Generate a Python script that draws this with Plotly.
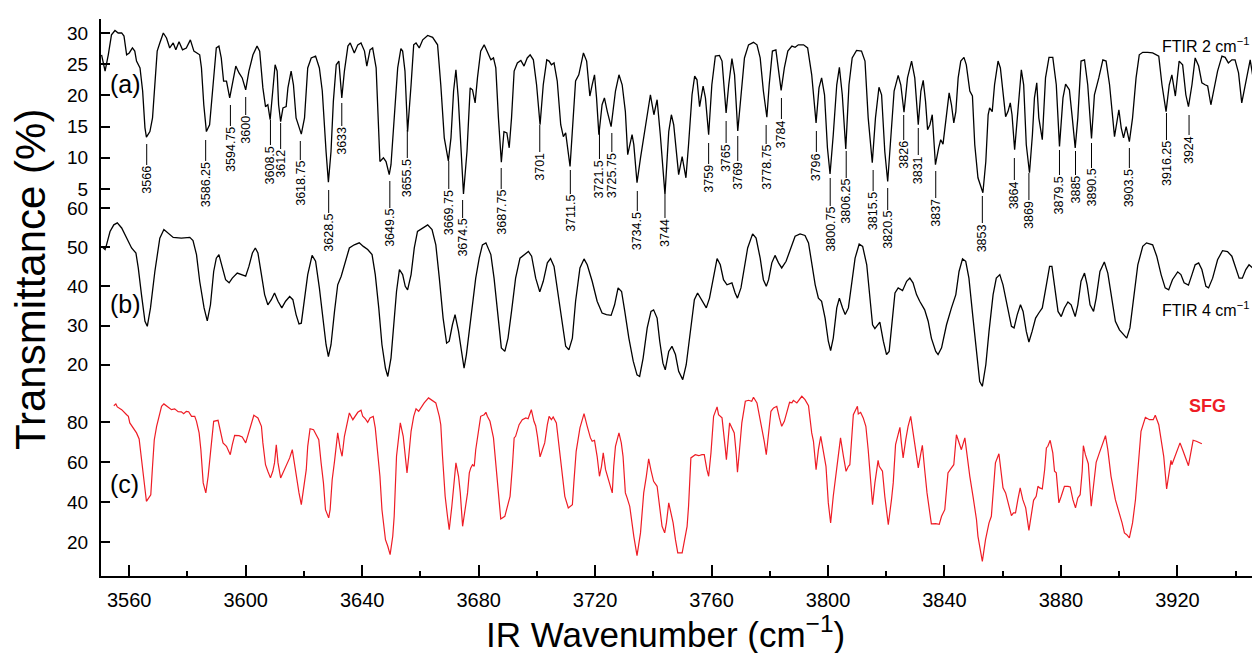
import plotly.graph_objects as go

# ---------------- data ----------------
A_WN = [3550.5,3551.7,3552.8,3553.9,3555.1,3556.2,3557.4,3558.2,3559.1,3560.0,3561.1,3561.9,3562.5,3563.7,3564.6,3565.4,3565.9,3567.1,3568.0,3568.8,3569.6,3570.5,3571.7,3572.8,3573.9,3575.1,3576.0,3577.1,3578.3,3579.6,3581.0,3582.2,3584.2,3584.8,3585.6,3586.5,3587.6,3588.8,3589.9,3590.8,3591.6,3592.4,3593.4,3594.5,3595.6,3596.6,3597.7,3598.8,3600.0,3601.1,3602.5,3603.9,3604.8,3605.9,3606.8,3607.6,3608.4,3609.3,3610.1,3610.8,3611.3,3612.0,3612.8,3613.9,3614.5,3615.6,3616.4,3617.3,3619.1,3620.2,3621.3,3622.5,3624.0,3625.3,3626.3,3627.6,3628.4,3629.3,3630.1,3631.1,3632.0,3633.0,3633.9,3635.1,3635.9,3637.3,3638.5,3639.6,3640.8,3641.6,3642.7,3643.6,3644.8,3646.1,3647.3,3648.2,3649.3,
        3649.9,3651.0,3652.2,3653.3,3653.9,3654.7,3655.6,3656.8,3657.7,3658.5,3659.6,3660.8,3662.5,3664.2,3665.9,3667.0,3668.2,3669.6,3670.5,3671.4,3672.2,3673.0,3673.9,3674.8,3676.0,3677.1,3677.9,3678.8,3679.6,3680.7,3681.9,3683.0,3684.2,3685.1,3685.9,3686.8,3687.8,3688.7,3689.7,3690.5,3691.3,3692.2,3693.3,3694.5,3695.6,3696.7,3697.7,3698.8,3699.9,3701.1,3702.2,3703.4,3704.2,3705.0,3705.9,3707.0,3708.2,3709.1,3709.9,3711.4,3712.5,3713.3,3714.4,3716.0,3717.1,3718.2,3719.0,3719.8,3720.5,3721.3,3722.4,3723.2,3724.2,3725.5,3727.0,3728.2,3729.3,3730.4,3731.2,3732.7,3733.3,3734.4,3735.6,3737.3,3739.0,3740.2,3741.3,3742.4,3744.0,3745.3,3746.2,3747.0,3747.9,3748.7,3749.9,
        3751.2,3752.1,3753.3,3754.2,3755.0,3755.9,3757.1,3757.9,3759.0,3760.1,3761.3,3762.7,3763.6,3765.0,3765.9,3767.0,3767.9,3769.0,3770.2,3771.3,3772.7,3774.4,3775.6,3776.7,3777.8,3779.0,3779.8,3780.9,3782.1,3783.0,3783.9,3785.0,3786.2,3787.6,3788.7,3789.8,3791.6,3793.0,3794.4,3795.9,3796.9,3797.8,3798.8,3799.8,3800.7,3801.8,3803.0,3803.9,3804.9,3806.1,3807.2,3808.3,3809.8,3811.5,3812.7,3813.8,3815.2,3816.3,3817.5,3818.4,3819.5,3820.5,3821.6,3822.7,3824.1,3825.0,3826.1,3827.3,3828.7,3829.8,3831.0,3831.9,3832.7,3833.5,3834.2,3835.0,3835.8,3836.9,3838.0,3838.7,3839.5,3840.7,3841.6,3842.4,3843.2,3843.9,3844.7,3845.6,3846.7,
        3847.5,3848.7,3849.6,3850.4,3851.5,3853.2,3854.2,3855.0,3855.5,3856.4,3857.2,3858.4,3859.2,3860.1,3861.0,3861.8,3862.6,3863.2,3864.1,3865.2,3866.4,3867.2,3868.1,3869.2,3870.2,3870.9,3871.7,3872.4,3873.6,3874.7,3875.9,3877.2,3878.4,3879.5,3880.7,3881.6,3882.9,3883.9,3884.9,3885.8,3886.9,3888.1,3889.2,3890.5,3891.5,3893.0,3894.4,3895.5,3896.7,3898.4,3899.2,3899.9,3900.7,3901.5,3902.4,3903.5,3904.6,3905.8,3906.9,3908.1,3909.8,3911.5,3913.6,3914.7,3916.1,3917.2,3918.1,3919.3,3920.6,3921.8,3922.9,3923.8,3925.0,3926.1,3927.3,3928.4,3929.5,3930.4,3931.5,3932.6,3933.8,3935.3,3936.4,3937.5,3938.7,3939.8,3941.0,3942.1,3943.3,3945.0,3946.0,3947.0,3947.8,3948.6,3949.5]
A_T = [26.5,23.9,26.5,29.7,30.4,30.0,30.0,29.5,26.5,26.8,27.6,27.1,25.5,24.4,20.7,14.8,13.3,14.2,16.4,21.7,27.1,28.4,30.0,29.2,27.6,28.4,27.3,28.6,27.3,27.6,28.9,27.1,26.5,24.4,18.5,14.2,15.3,21.7,27.6,27.9,26.0,22.3,22.3,19.6,22.3,24.7,23.6,22.8,20.9,23.9,26.5,27.9,27.1,21.2,18.2,18.5,16.1,20.7,24.9,23.9,18.5,15.8,18.0,18.2,21.2,23.9,21.7,16.4,13.8,16.4,24.4,26.0,26.3,24.4,20.7,11.0,6.1,11.0,19.0,24.9,25.5,19.6,23.9,27.9,28.4,26.8,28.1,28.4,27.1,24.7,27.3,27.6,24.4,9.4,10.0,9.4,7.3,
       8.9,16.4,24.4,27.5,27.1,23.9,14.2,21.7,28.1,28.4,27.6,28.9,29.6,29.3,28.1,21.7,13.2,9.5,13.2,20.7,24.1,19.6,11.0,4.2,11.0,21.2,20.9,18.8,22.8,27.1,28.1,26.8,25.7,26.0,24.4,16.4,9.3,14.2,14.0,11.6,16.4,23.9,25.2,25.6,24.7,26.0,26.5,25.7,21.7,15.3,21.7,25.7,25.5,24.9,25.2,22.3,15.3,13.4,14.0,8.6,16.4,22.3,23.3,26.8,25.5,19.9,21.7,23.3,19.6,13.7,18.5,19.6,17.4,15.0,20.7,23.3,21.7,17.4,10.5,13.7,12.1,6.0,10.0,14.8,20.1,16.9,19.3,13.7,4.1,14.2,16.9,15.3,10.5,7.3,10.2,
       6.8,12.1,20.1,23.1,22.5,18.2,21.5,19.6,13.7,21.7,26.3,26.4,25.5,17.2,21.7,25.9,23.3,14.3,20.1,26.0,28.1,28.5,28.1,26.0,20.7,16.5,21.7,27.1,27.3,24.4,20.8,24.4,27.1,27.9,27.7,28.1,28.1,27.6,23.3,15.6,21.2,22.8,20.1,11.6,7.4,13.7,21.7,24.5,20.1,11.4,21.7,26.0,27.2,27.1,25.5,16.4,9.2,16.4,21.3,20.1,11.0,6.2,13.2,20.7,23.2,21.7,17.3,22.8,25.5,22.8,15.3,20.7,22.4,19.0,14.5,15.3,16.9,8.9,11.6,12.9,12.2,17.4,20.4,18.5,15.6,17.4,22.8,25.5,26.1,
       24.9,20.7,19.9,12.1,6.8,4.4,9.4,16.9,18.0,17.4,21.7,25.5,24.4,20.1,16.6,17.4,18.8,16.9,11.3,17.4,24.1,21.7,12.1,7.6,13.7,19.6,22.0,16.4,12.9,22.8,26.1,26.1,21.7,11.8,19.6,21.8,20.9,16.4,11.6,16.4,25.5,25.7,21.7,13.1,20.1,22.8,25.7,25.5,21.7,13.4,15.8,17.7,14.8,13.2,15.0,12.6,16.4,22.8,26.5,26.9,26.9,26.8,26.3,21.7,17.4,21.7,23.3,19.9,25.5,24.9,20.1,18.2,21.7,26.0,24.7,22.0,21.7,21.5,18.5,21.2,23.9,26.3,26.1,25.2,25.7,25.7,23.6,18.8,21.7,25.7,22.8,21.5,22.3,21.5,21.7]

B_WN = [3550.5,3551.7,3552.2,3553.4,3554.7,3555.9,3557.4,3559.1,3560.8,3562.3,3563.1,3564.2,3565.4,3566.2,3567.3,3568.8,3570.5,3571.9,3573.4,3575.1,3577.9,3580.8,3581.9,3583.1,3584.2,3585.7,3586.8,3587.9,3589.0,3589.9,3590.8,3592.0,3593.1,3594.3,3595.4,3597.1,3598.5,3600.0,3601.1,3602.3,3603.3,3604.2,3605.4,3606.5,3607.6,3608.8,3609.9,3611.1,3612.4,3613.7,3615.1,3616.2,3617.3,3618.3,3619.1,3620.2,3621.3,3622.8,3624.0,3625.3,3626.5,3627.6,3628.4,3629.3,3630.5,3631.6,3632.8,3633.9,3635.6,3637.3,3639.0,3640.4,3641.9,3643.4,3644.5,3645.7,3646.8,3648.0,3648.8,3649.9,3651.0,3651.8,3652.8,3653.9,3654.8,3655.6,3656.8,3657.9,3659.0,3660.8,3662.5,3664.0,3665.3,3666.5,3667.8,3669.0,3669.9,3671.0,3671.9,3673.1,3674.5,3675.0,3675.8,3676.7,3677.9,3679.0,3680.2,3681.3,3682.5,
        3684.2,3685.3,3686.5,3687.8,3689.0,3690.1,3691.3,3692.7,3694.2,3695.6,3697.1,3698.2,3699.6,3701.0,3702.2,3703.6,3704.7,3705.9,3707.0,3708.4,3709.9,3711.0,3712.2,3713.3,3714.8,3716.2,3717.3,3719.0,3720.7,3722.4,3723.9,3725.5,3726.7,3727.9,3729.1,3730.2,3731.6,3733.1,3734.4,3735.3,3736.5,3737.9,3739.2,3740.1,3741.3,3742.2,3743.3,3744.1,3745.3,3746.4,3747.6,3748.7,3750.1,3751.3,3752.7,3754.1,3755.2,3756.7,3758.2,3759.3,3760.7,3761.9,3763.0,3764.1,3765.3,3767.0,3768.1,3768.9,3770.1,3771.2,3772.4,3774.1,3775.3,3776.7,3777.8,3778.8,3779.6,3780.7,3781.8,3783.0,3784.1,3785.6,3787.0,3788.7,3790.4,3792.1,3793.3,3794.4,3795.6,3796.7,3797.8,3799.0,3800.1,3800.9,3801.8,3803.0,3803.9,3805.0,3805.9,3807.0,3808.1,3809.3,3810.7,3811.9,3813.3,3814.4,3815.3,3816.1,
        3817.8,3819.0,3820.1,3821.0,3821.8,3823.0,3824.1,3825.6,3827.0,3828.1,3829.2,3830.4,3831.5,3833.2,3834.4,3835.5,3837.0,3837.8,3839.0,3840.7,3842.4,3843.9,3845.0,3846.2,3847.3,3848.4,3849.8,3851.0,3852.1,3853.0,3854.2,3855.3,3856.7,3857.8,3859.0,3860.1,3861.6,3863.0,3863.9,3865.0,3866.1,3867.0,3868.1,3869.0,3870.1,3871.3,3872.4,3873.6,3875.0,3876.1,3876.9,3877.8,3879.0,3880.1,3881.2,3882.4,3883.5,3884.9,3885.8,3886.9,3888.1,3889.0,3890.0,3891.2,3892.1,3893.4,3894.9,3896.1,3897.2,3898.7,3900.1,3901.4,3902.6,3903.7,3904.9,3906.4,3908.1,3909.4,3911.5,3912.9,3914.4,3915.8,3917.0,3918.3,3920.1,3921.2,3922.3,3923.8,3925.0,3926.1,3927.3,3928.4,3929.8,3930.7,3932.1,3933.8,3935.5,3937.2,3938.7,3940.1,3941.2,3942.3,3943.5,3944.6,3945.8,3946.9,3947.8,3948.6,3949.4]
B_T = [50.2,49.4,50.6,54.0,55.7,56.2,54.9,52.3,49.8,48.5,44.7,37.9,31.1,29.8,34.5,43.8,52.3,54.5,53.6,52.5,52.3,52.5,51.7,48.1,41.3,34.5,31.2,35.3,43.8,47.2,48.1,44.7,41.7,40.9,42.1,43.4,43.0,42.6,45.1,48.5,49.8,48.5,43.0,37.9,35.3,36.6,38.3,36.2,34.5,36.2,37.4,36.6,32.8,30.4,30.6,36.2,43.0,47.9,46.4,39.6,31.9,25.1,22.1,25.1,33.6,40.4,42.6,45.5,49.8,50.6,51.1,50.2,49.4,48.1,43.0,34.5,25.1,19.1,17.0,21.7,31.1,38.7,44.3,43.0,40.0,39.1,43.0,49.8,54.0,54.9,55.7,54.5,50.6,42.1,31.9,25.5,26.0,30.2,32.8,28.5,21.7,19.1,22.6,28.5,36.2,42.1,47.2,50.6,51.1,
       48.1,42.1,32.8,24.3,23.4,26.8,33.6,42.1,47.2,48.1,48.9,47.7,42.1,38.6,41.3,46.0,47.1,45.1,39.6,32.8,24.7,23.8,26.8,36.2,44.7,47.0,45.5,41.3,36.2,33.2,32.8,32.6,35.3,39.6,38.7,33.6,26.8,20.9,17.4,17.0,21.7,29.4,33.6,34.0,31.9,26.0,20.4,18.7,23.4,24.7,22.6,18.3,16.2,20.0,28.5,36.6,38.3,36.2,34.5,37.0,43.0,47.1,45.5,41.7,40.4,40.9,38.3,37.0,39.6,44.7,49.8,53.4,52.3,47.2,41.7,40.0,41.7,46.0,47.9,46.0,44.7,46.4,49.4,52.8,53.4,53.0,51.1,45.5,40.4,37.0,36.2,31.9,26.0,23.6,26.8,34.5,37.0,34.5,32.8,34.5,41.3,47.2,50.8,50.2,45.5,37.9,30.2,29.2,
       30.9,26.0,22.6,23.4,30.2,38.3,39.6,38.9,41.3,42.1,40.9,37.9,36.2,34.0,31.1,26.8,23.4,22.6,24.3,30.2,34.5,37.9,43.8,47.0,46.4,42.1,31.9,22.6,15.7,14.5,20.0,28.5,37.9,42.1,43.0,40.4,34.5,29.8,29.4,32.8,35.3,33.6,28.5,25.8,28.5,31.9,33.2,34.5,40.4,45.1,45.1,39.6,33.6,32.3,34.5,36.0,35.3,32.3,35.3,41.3,43.4,40.4,35.3,33.6,37.0,43.8,46.2,43.4,37.9,31.1,28.9,27.7,26.8,29.4,37.0,45.5,50.2,51.1,50.6,47.7,43.0,39.6,39.1,41.7,43.7,43.0,40.9,40.3,43.0,45.5,46.0,44.3,40.0,39.6,42.1,46.8,49.1,48.9,47.7,44.7,42.1,42.1,44.3,45.5,44.7,43.0,42.1,42.6,43.4]

C_WN = [3554.7,3555.4,3555.9,3557.4,3559.1,3559.7,3560.2,3561.4,3562.5,3563.4,3564.2,3564.6,3564.8,3565.4,3565.9,3566.7,3567.4,3568.0,3568.6,3569.4,3570.2,3571.1,3571.9,3573.0,3574.5,3575.6,3576.8,3577.9,3578.7,3579.6,3580.4,3581.4,3582.5,3583.1,3584.0,3584.6,3585.4,3586.3,3587.1,3587.9,3589.0,3590.5,3591.3,3592.2,3593.4,3594.7,3595.4,3596.2,3597.7,3598.8,3600.0,3601.1,3602.8,3604.2,3605.4,3605.9,3606.8,3607.6,3608.5,3609.3,3609.9,3610.5,3611.1,3612.0,3612.8,3613.9,3615.1,3616.0,3616.8,3617.6,3618.3,3619.1,3619.9,3620.8,3621.3,3622.1,3623.3,3624.2,3625.1,3625.9,3626.7,3627.4,3628.5,3629.0,3629.7,3630.5,3631.6,3632.4,3633.1,3633.9,3634.7,3635.6,3636.8,3637.7,3638.5,3639.6,3640.2,3641.1,3641.9,3642.7,3643.8,3644.5,3645.3,3646.1,3646.8,3648.0,3648.8,3649.6,3650.5,3651.0,3651.8,3653.1,3654.1,3655.0,3655.4,3656.0,3656.8,3657.7,3658.5,3659.4,3660.2,3661.3,3662.8,3664.2,3665.3,3666.5,3667.0,3667.6,3668.5,3669.3,3669.9,3670.8,3671.6,3672.2,3673.1,3673.7,3674.5,3675.4,3676.2,3676.8,3677.3,3677.9,3678.5,3679.0,3679.9,3680.7,3681.9,3682.5,3683.0,
        3683.9,3685.1,3686.2,3687.6,3689.0,3689.9,3690.8,3691.6,3692.2,3692.7,3693.9,3695.0,3696.2,3697.0,3698.1,3699.0,3699.6,3700.2,3701.1,3701.9,3702.7,3703.6,3704.2,3705.0,3705.6,3706.7,3707.6,3708.7,3709.6,3710.8,3712.2,3712.7,3713.5,3714.8,3716.2,3717.3,3718.4,3719.0,3719.8,3720.7,3721.5,3722.2,3722.8,3723.6,3725.1,3725.9,3726.4,3727.0,3728.2,3729.0,3729.6,3730.4,3731.0,3731.9,3733.3,3734.4,3735.6,3736.7,3737.6,3738.4,3739.2,3740.1,3741.3,3742.4,3743.0,3743.9,3744.5,3745.3,3746.1,3746.8,3747.6,3748.4,3749.9,3750.8,3751.6,3752.1,3752.9,3754.4,3755.6,3756.7,3757.5,3758.4,3759.0,3759.8,3760.7,3761.9,3762.4,3763.6,3764.1,3764.7,3765.1,3765.5,3766.2,3767.0,3767.8,3768.5,3768.9,3769.6,3770.4,3771.6,3772.7,3773.8,3774.4,3775.6,3776.5,3777.3,3778.1,3778.8,3779.6,3780.4,3781.3,3782.4,3783.3,3784.1,3785.0,3785.8,3786.8,3787.6,3788.1,3789.3,3791.0,3792.1,3793.3,3794.4,3795.0,3795.9,3796.7,3797.5,3798.4,3799.3,3800.1,3800.9,3801.8,3802.7,3803.5,3804.3,3805.3,3806.2,3807.0,3807.5,3808.7,3809.6,3810.1,3810.4,3811.2,3812.1,3813.0,3813.8,3814.6,3815.3,3816.1,3816.7,3817.2,
        3817.6,3818.7,3819.5,3820.7,3821.8,3822.4,3823.2,3824.1,3824.7,3825.2,3825.8,3826.7,3827.5,3828.4,3829.2,3830.2,3831.0,3831.8,3832.4,3833.2,3834.0,3835.5,3837.0,3838.2,3839.0,3840.1,3841.2,3842.4,3843.2,3844.1,3845.0,3845.8,3847.0,3847.7,3848.7,3849.8,3851.0,3851.5,3853.0,3854.1,3855.3,3856.1,3856.9,3857.5,3858.7,3859.5,3860.1,3861.0,3861.8,3863.0,3863.7,3864.4,3865.2,3866.0,3866.9,3867.9,3869.0,3869.8,3870.6,3871.5,3872.1,3872.7,3873.6,3874.4,3875.0,3875.5,3876.3,3877.2,3877.8,3878.4,3879.3,3880.1,3881.2,3882.4,3883.2,3884.1,3885.0,3885.8,3886.6,3887.3,3887.7,3888.4,3889.4,3890.4,3891.2,3892.1,3893.2,3894.1,3895.3,3896.1,3897.2,3898.7,3900.1,3901.0,3901.8,3902.6,3903.5,3904.6,3905.6,3906.4,3907.5,3909.0,3910.4,3911.7,3912.4,3913.6,3914.7,3915.3,3916.3,3917.2,3917.8,3918.1,3918.9,3919.8,3920.9,3921.8,3922.7,3923.8,3924.6,3925.4,3926.5,3927.5,3928.4]
C_T = [88.3,89.2,87.7,86.3,83.8,83.0,79.7,77.2,74.7,71.7,61.3,57.2,53.0,46.3,40.5,42.2,43.8,58.0,71.3,78.0,83.0,88.0,89.2,88.0,86.3,86.7,85.3,85.2,84.3,85.5,85.3,83.0,83.0,80.5,74.7,66.3,49.7,44.7,53.0,64.7,80.5,81.0,76.3,69.7,68.0,63.8,68.8,73.5,73.3,72.7,69.7,74.7,83.5,82.2,78.0,69.7,58.8,55.5,52.2,55.5,59.7,68.8,59.7,52.2,54.7,58.0,62.2,66.3,58.0,49.7,44.7,38.8,46.3,56.3,68.0,76.8,76.3,73.8,71.3,59.7,49.7,36.3,32.2,36.3,51.3,60.5,74.7,67.2,63.0,73.0,78.8,84.7,81.3,83.0,85.0,86.0,83.0,81.7,80.0,82.2,83.0,77.2,66.3,53.0,36.3,21.3,18.0,13.8,23.0,33.0,63.0,79.7,73.0,61.3,54.7,63.0,75.5,83.0,86.7,85.5,87.2,89.7,92.2,91.0,89.7,83.0,78.8,63.0,43.0,33.0,26.3,38.0,51.3,59.7,53.0,44.7,28.0,36.3,44.7,54.7,57.2,58.8,58.0,66.3,76.3,83.0,83.8,85.0,83.0,
       80.5,72.2,54.7,31.7,33.0,38.0,43.0,58.0,72.2,73.0,78.8,81.3,82.2,81.8,86.3,80.5,78.3,73.0,62.7,66.3,69.7,78.8,83.0,81.3,82.7,79.7,68.0,54.7,43.0,37.2,38.8,49.7,65.5,77.2,84.3,78.0,72.2,70.5,71.0,63.0,53.0,58.0,64.7,56.3,48.0,44.7,58.0,68.0,74.7,69.7,63.0,44.7,42.2,38.0,23.0,13.3,24.7,44.7,53.0,61.7,56.0,50.5,48.0,36.3,28.0,24.7,29.7,39.7,34.7,29.7,21.3,14.7,14.7,21.3,28.0,38.0,62.2,63.8,63.3,63.8,63.8,56.3,53.0,64.7,83.0,87.7,83.8,82.2,76.3,67.2,61.3,69.7,79.7,77.2,74.7,63.8,55.0,66.3,79.7,90.5,91.0,90.5,92.5,89.7,83.0,75.5,70.5,63.8,74.7,85.5,87.2,88.0,82.2,78.0,80.5,84.7,90.0,89.7,91.0,89.7,93.0,91.3,88.3,74.7,70.5,56.3,66.3,73.0,66.3,58.0,39.7,29.7,43.0,54.7,63.8,72.2,63.0,55.5,58.0,58.8,83.8,86.3,88.0,84.2,85.0,82.2,78.0,66.3,53.0,38.8,49.7,56.3,61.0,
       58.0,55.5,43.0,28.8,41.3,49.7,68.8,73.8,77.5,69.7,62.2,71.3,78.0,83.0,74.7,64.7,57.2,63.8,68.5,56.3,44.7,29.2,29.3,29.0,33.0,36.3,54.7,57.2,58.8,73.8,69.7,66.3,72.2,63.0,53.0,43.0,31.3,23.0,10.5,21.3,29.7,33.0,46.3,59.7,64.3,54.7,47.2,44.7,39.7,33.3,34.7,34.7,41.3,47.2,41.3,37.2,26.0,33.0,41.0,43.0,48.0,47.2,46.7,56.3,67.2,68.0,71.0,64.7,55.5,54.7,39.7,43.0,48.0,48.0,47.7,41.3,37.2,42.2,43.8,55.5,68.3,63.8,59.3,38.0,49.7,60.0,64.7,68.0,73.3,66.3,53.0,41.3,34.7,29.7,24.7,23.8,22.2,29.7,41.3,54.7,75.5,82.5,81.3,81.3,83.5,78.8,68.0,63.0,46.7,54.7,61.0,58.8,61.7,65.5,69.7,66.3,62.7,58.3,64.7,71.0,70.5,69.7,69.3]

PEAK_LABELS = ["3566","3586.25","3594.75","3600","3608.5","3612","3618.75","3628.5","3633",
               "3649.5","3655.5","3669.75","3674.5","3687.75","3701","3711.5","3721.5","3725.75",
               "3734.5","3744","3759","3765","3769","3778.75","3784","3796","3800.75","3806.25",
               "3815.5","3820.5","3826","3831","3837","3853","3864","3869","3879.5","3885","3890.5",
               "3903.5","3916.25","3924"]

X_TICKS = [3560, 3600, 3640, 3680, 3720, 3760, 3800, 3840, 3880, 3920]
X_MINOR = [3580, 3620, 3660, 3700, 3740, 3780, 3820, 3860, 3900, 3940]
YA_TICKS = [5, 10, 15, 20, 25, 30]
YB_TICKS = [20, 30, 40, 50, 60]
YC_TICKS = [20, 40, 60, 80]

# ---------------- layout constants (pixels) ----------------
W, H = 1260, 653
ML, MR, MT, MB = 93, 3, 11, 85
PH = H - MT - MB
PW = W - ML - MR

def py(px):
    return (H - MB - px) / PH

def pxx(px):
    return (px - ML) / PW

# leader line extents (px from top) for each peak label
LEAD_TOP = [136,132,97,89,112,115,133,182,95,173,122,153,192,160,117,162,122,125,183,187,
            135,113,128,117,90,123,170,143,162,180,107,120,163,188,150,165,142,143,135,140,105,107]
LEAD_BOT = [157,153,118,107,137,141,152,205,118,200,150,181,210,181,144,186,151,144,203,210,
            156,135,153,136,111,144,198,170,183,202,132,147,190,215,172,192,167,167,160,160,132,127]

BLACK = "#000000"
RED = "#ee1c25"
FONT = "Liberation Sans, Arial, Helvetica, sans-serif"

fig = go.Figure()
fig.add_trace(go.Scatter(x=A_WN, y=A_T, mode="lines", line=dict(color=BLACK, width=1.3),
                         xaxis="x", yaxis="y", hoverinfo="skip"))
fig.add_trace(go.Scatter(x=B_WN, y=B_T, mode="lines", line=dict(color=BLACK, width=1.3),
                         xaxis="x", yaxis="y2", hoverinfo="skip"))
fig.add_trace(go.Scatter(x=C_WN, y=C_T, mode="lines", line=dict(color=RED, width=1.2),
                         xaxis="x", yaxis="y3", hoverinfo="skip"))

XR = [3550.3, 3949.4]
D_A = [py(190), 1.0]
D_B = [py(382), py(190)]
D_C = [0.0, py(382)]
R_A = [3.56, 32.24]
R_B = [13.55, 62.55]
R_C = [3.15, 96.15]

common_y = dict(showline=True, linewidth=2, linecolor=BLACK, mirror="ticks", ticks="inside",
                ticklen=9, tickwidth=2, tickcolor=BLACK, showgrid=False, zeroline=False,
                anchor="x", tickfont=dict(size=19, color=BLACK, family=FONT),
                ticklabelstandoff=7)
out_y = dict(showline=False, ticks="outside", ticklen=7, tickwidth=2, tickcolor=BLACK,
             showgrid=False, zeroline=False, showticklabels=False, anchor="x", side="left")

fig.update_layout(
    width=W, height=H, margin=dict(l=ML, r=MR, t=MT, b=MB),
    paper_bgcolor="white", plot_bgcolor="white", showlegend=False,
    font=dict(family=FONT, color=BLACK),
    xaxis=dict(range=XR, anchor="y3", showline=True, linewidth=2, linecolor=BLACK,
               ticks="inside", ticklen=11, tickwidth=2, tickcolor=BLACK,
               tickvals=X_TICKS, showgrid=False, zeroline=False,
               tickfont=dict(size=20, color=BLACK, family=FONT), ticklabelstandoff=5,
               minor=dict(tickvals=X_MINOR, ticks="inside", ticklen=5, tickwidth=2,
                          tickcolor=BLACK, showgrid=False)),
    xaxis2=dict(range=XR, overlaying="x", side="top", anchor="free", position=1,
                showline=True, linewidth=2, linecolor=BLACK, ticks="inside", ticklen=10,
                tickwidth=2, tickcolor=BLACK, tickvals=X_TICKS + X_MINOR,
                showticklabels=False, showgrid=False, zeroline=False),
    yaxis=dict(domain=D_A, range=R_A, tickvals=YA_TICKS, **common_y),
    yaxis2=dict(domain=D_B, range=R_B, tickvals=YB_TICKS, **common_y),
    yaxis3=dict(domain=D_C, range=R_C, tickvals=YC_TICKS, **common_y),
    yaxis4=dict(overlaying="y", range=R_A, tickvals=YA_TICKS, **out_y),
    yaxis5=dict(overlaying="y2", range=R_B, tickvals=YB_TICKS, **out_y),
    yaxis6=dict(overlaying="y3", range=R_C, tickvals=YC_TICKS, **out_y),
)

shapes = []
annotations = []
for lab, top, bot in zip(PEAK_LABELS, LEAD_TOP, LEAD_BOT):
    wn = float(lab)
    shapes.append(dict(type="line", xref="x", yref="paper", x0=wn, x1=wn,
                       y0=py(top), y1=py(bot), line=dict(color=BLACK, width=1)))
    annotations.append(dict(xref="x", yref="paper", x=wn, y=py(bot), text=lab,
                            textangle=-90, showarrow=False, xanchor="center", yanchor="top",
                            borderpad=0, font=dict(size=12.5, color=BLACK, family=FONT)))

annotations += [
    dict(xref="paper", yref="paper", x=pxx(22), y=py(271), text="Transmittance (%)",
         textangle=-90, showarrow=False, xanchor="center", yanchor="middle",
         font=dict(size=42, color=BLACK, family=FONT)),
    dict(xref="paper", yref="paper", x=pxx(658), y=py(624), text="IR Wavenumber (cm<sup>\u22121</sup>)",
         showarrow=False, xanchor="center", yanchor="middle",
         font=dict(size=35, color=BLACK, family=FONT)),
    dict(xref="paper", yref="paper", x=pxx(100), y=py(76), text="(a)", showarrow=False,
         xanchor="left", yanchor="middle", font=dict(size=25, color=BLACK, family=FONT)),
    dict(xref="paper", yref="paper", x=pxx(100), y=py(296), text="(b)", showarrow=False,
         xanchor="left", yanchor="middle", font=dict(size=25, color=BLACK, family=FONT)),
    dict(xref="paper", yref="paper", x=pxx(100), y=py(476), text="(c)", showarrow=False,
         xanchor="left", yanchor="middle", font=dict(size=25, color=BLACK, family=FONT)),
    dict(xref="paper", yref="paper", x=pxx(1245), y=py(37), text="FTIR 2 cm<sup>\u22121</sup>",
         showarrow=False, xanchor="right", yanchor="middle",
         font=dict(size=16, color=BLACK, family=FONT)),
    dict(xref="paper", yref="paper", x=pxx(1245), y=py(301), text="FTIR 4 cm<sup>\u22121</sup>",
         showarrow=False, xanchor="right", yanchor="middle",
         font=dict(size=16, color=BLACK, family=FONT)),
    dict(xref="paper", yref="paper", x=pxx(1201), y=py(398), text="<b>SFG</b>",
         showarrow=False, xanchor="center", yanchor="middle",
         font=dict(size=18, color=RED, family=FONT)),
]
fig.update_layout(shapes=shapes, annotations=annotations)

fig.write_html("out.html")
